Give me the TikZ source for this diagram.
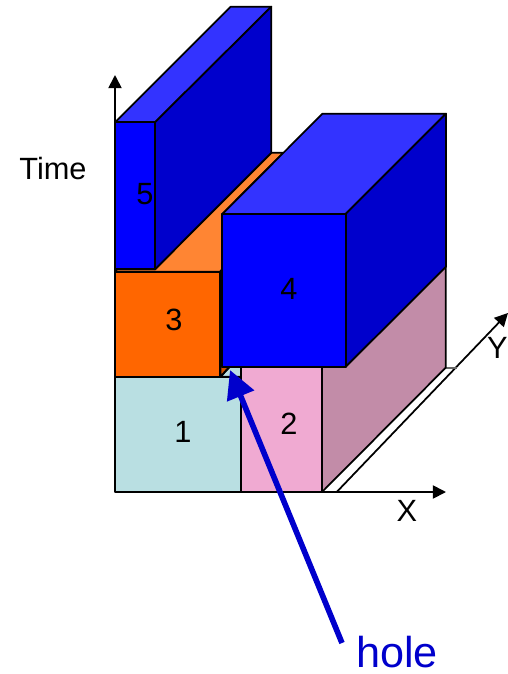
\documentclass[tikz,border=0pt]{standalone}
\usepackage{fontspec}
\setmainfont{Liberation Sans}
\usetikzlibrary{arrows.meta}

\definecolor{boxone}{HTML}{B9DFE2}
\definecolor{boxtwo}{HTML}{F0AAD2}
\definecolor{boxtwoside}{HTML}{C28CA8}
\definecolor{boxthree}{HTML}{FF6600}
\definecolor{boxthreetop}{HTML}{FF8533}
\definecolor{boxthreeside}{HTML}{CC5200}
\definecolor{boxblue}{HTML}{0000FF}
\definecolor{boxbluetop}{HTML}{3333FF}
\definecolor{boxblueside}{HTML}{0000CC}

\tikzset{
  face/.style={draw=black,line width=1pt,line join=round},
  axisline/.style={draw=black,line width=1pt,-{Triangle[length=7.5pt,width=7.5pt]}},
  label/.style={font=\fontsize{17.5}{20}\selectfont,inner sep=0pt},
}

\begin{document}
\begin{tikzpicture}[x=0.02cm,y=-0.02cm]

\useasboundingbox (0,0) rectangle (508,674);

\coordinate (O) at (115,492);
\coordinate (T) at (115,75);
\coordinate (Xend) at (446,492);
\coordinate (Ystart) at (336.7,492);
\coordinate (Yend) at (508,313);
\coordinate (Holestart) at (342,643);
\coordinate (Holetip) at (230,370);

\draw[axisline] (O)--(T);
\draw[axisline] (O)--(Xend);
\draw[axisline] (Ystart)--(Yend);
\draw[draw=black!60,line width=1pt] (445.7,367.7)--(457,367.7);

\filldraw[face,fill=boxone] (220.5,376.7)--(230,366.7)--(241,366.7)--(241,376.7)--cycle;
\filldraw[face,fill=boxone] (115,376.7) rectangle (241,492);
\filldraw[face,fill=boxtwoside] (322,492)--(445.7,367.7)--(445.7,266.7)--(345.7,366.7)--(322,366.7)--cycle;
\filldraw[face,fill=boxtwo] (241.5,366.7) rectangle (322,492);

\filldraw[face,fill=boxthreeside] (220,271.7)--(222.3,269)--(222.3,366.7)--(229.3,366.7)--(220.5,376.7)--cycle;
\filldraw[face,fill=boxthreetop] (115,271.7)--(117,269.3)--(155,269.3)--(271.3,152.7)--(283.3,152.7)--(222.3,214)--(222.3,269)--(220,271.7)--cycle;
\filldraw[face,fill=boxthree] (115,271.7) rectangle (220,376.7);

\filldraw[face,fill=boxbluetop] (115,122.3)--(230.7,6.7)--(271.3,6.7)--(155,122.3)--cycle;
\filldraw[face,fill=boxblueside] (155,122.3)--(271.3,6.7)--(271.3,152.7)--(155,269.3)--cycle;
\filldraw[face,fill=boxblue] (115,122.3) rectangle (155,269.3);

\filldraw[face,fill=boxbluetop] (222.3,214)--(322.5,113.7)--(446,113.7)--(345.7,214)--cycle;
\filldraw[face,fill=boxblueside] (345.7,214)--(446,113.7)--(446,266.7)--(345.7,366.7)--cycle;
\filldraw[face,fill=boxblue] (222.3,214) rectangle (345.7,366.7);

\draw[draw=boxblueside,line width=3.2pt,-{Triangle[length=16pt,width=16pt]}] (Holestart)--(Holetip);

\node[label] (time) at (53,169) {Time};
\node[label] (one) at (183,432) {1};
\node[label] (two) at (289,424) {2};
\node[label] (three) at (174,320) {3};
\node[label] (four) at (289,289) {4};
\node[label] (five) at (145,194) {5};
\node[label] (xlabel) at (407,511) {X};
\node[label] (ylabel) at (497.5,348) {Y};
\node[label,font=\fontsize{24.6}{28}\selectfont,text=boxblueside] (hole) at (397,652) {hole};

\end{tikzpicture}
\end{document}
